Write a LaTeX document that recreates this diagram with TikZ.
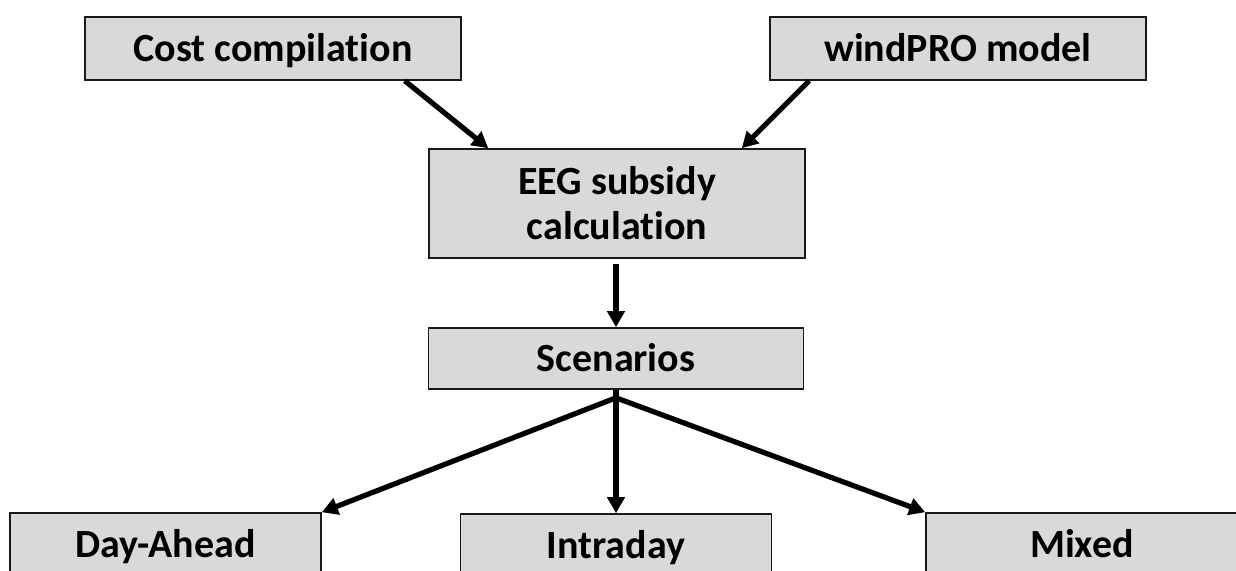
\documentclass[tikz,border=0pt]{standalone}
\usepackage{fontspec}
\setmainfont[Ligatures={NoCommon}]{Carlito}
\usetikzlibrary{arrows.meta}
\definecolor{boxfill}{HTML}{D9D9D9}
\definecolor{boxline}{HTML}{1A1A1A}
\begin{document}
\begin{tikzpicture}[x=1pt,y=-1pt,
  box/.style={draw=boxline, fill=boxfill, line width=1.6pt, rectangle, inner sep=0pt,
    font=\fontsize{40}{45}\selectfont\bfseries, align=center, text=black},
  oneline/.style={box, text height=25.8pt, text depth=0pt},
  conn/.style={line width=5.2pt, draw=black, -{Triangle[length=16pt,width=17pt]}}]
\path[use as bounding box, fill=white] (0,0) rectangle (1236,570);

\node[oneline, minimum width=376pt, minimum height=63pt] (cost) at (273,48.5) {Cost compilation};
\node[oneline, minimum width=376pt, minimum height=63pt] (wind) at (958,48.5) {windPRO model};
\node[box, minimum width=376pt, minimum height=109pt] (eeg) at (617,203.5) {EEG subsidy\\calculation};
\node[oneline, minimum width=375pt, minimum height=61pt] (scen) at (616,358.5) {Scenarios};
\node[oneline, minimum width=311pt, minimum height=63pt] (day) at (165.5,544.5) {Day-Ahead};
\node[oneline, minimum width=311pt, minimum height=63pt] (intra) at (616,545.5) {Intraday};
\node[oneline, minimum width=312pt, minimum height=63pt] (mixed) at (1082,544.5) {Mixed};

\coordinate (fork) at ([yshift=-8pt]scen.south);

\draw[conn] ([xshift=-57pt]cost.south east) -- ([xshift=60pt]eeg.north west);
\draw[conn] ([xshift=40pt]wind.south west) -- ([xshift=-64pt]eeg.north east);
\draw[conn] ([yshift=-5pt]eeg.south -| scen.north) -- (scen.north);
\draw[line width=5.2pt] (scen.south) -- (fork);
\draw[conn] (fork) -- (day.north east);
\draw[conn] (fork) -- (intra.north);
\draw[conn] (fork) -- (mixed.north west);
\end{tikzpicture}
\end{document}
